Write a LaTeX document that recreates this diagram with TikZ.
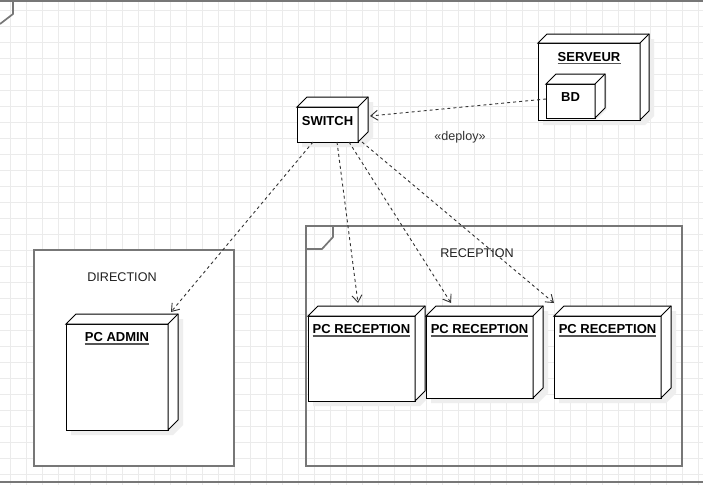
\documentclass[tikz,border=0pt]{standalone}
\usepackage{fontspec}
\setmainfont{Liberation Sans}
\usetikzlibrary{arrows.meta}
\definecolor{gridc}{HTML}{EBEBEB}
\definecolor{framec}{HTML}{777777}
\definecolor{shadc}{HTML}{EEEEEE}
\definecolor{linec}{HTML}{333333}
\definecolor{ulc}{HTML}{555555}
\newcommand\mycube[3][5]{%
  \fill[shadowpath] ([shift={(#1,#1)}]#2.north west) -- ([shift={(#1+#3,#1-#3)}]#2.north west)
    -- ([shift={(#1+#3,#1-#3)}]#2.north east) -- ([shift={(#1+#3,#1-#3)}]#2.south east)
    -- ([shift={(#1,#1)}]#2.south east) -- ([shift={(#1,#1)}]#2.south west) -- cycle;
  \draw[facepath] (#2.north west) rectangle (#2.south east);
  \draw[facepath] (#2.north west) -- ([shift={(#3,-#3)}]#2.north west)
    -- ([shift={(#3,-#3)}]#2.north east) -- ([shift={(#3,-#3)}]#2.south east)
    -- (#2.south east) -- (#2.north east) -- cycle;
  \draw[facepath] (#2.north east) -- ([shift={(#3,-#3)}]#2.north east);
}
\begin{document}
\begin{tikzpicture}[x=1pt,y=-1pt,
  boxgeom/.style={inner sep=0pt,outer sep=0pt,draw=none},
  facepath/.style={draw=black,line width=1pt,fill=white,line join=miter},
  shadowpath/.style={fill=shadc},
  nlabel/.style={inner sep=0pt,anchor=base,font=\fontsize{13}{15}\selectfont\bfseries},
  flabel/.style={inner sep=0pt,anchor=base,font=\fontsize{12.6}{15}\selectfont,text=black!88},
  ulline/.style={draw=ulc,line width=1.5pt},
  frameline/.style={draw=framec,line width=1.7pt},
  depline/.style={draw=linec,line width=0.9pt,dash pattern=on 3pt off 3pt,
    -{Straight Barb[length=7pt,width=10pt]}},
  gridline/.style={draw=gridc,line width=1pt}]
\useasboundingbox (0,0) rectangle (703,485);
\clip (0,0) rectangle (703,485);
\fill[white] (0,0) rectangle (703,485);
% grid
\foreach \x in {10,26,...,698} \draw[gridline] (\x,0) -- (\x,485);
\foreach \y in {10,26,...,474} \draw[gridline] (0,\y) -- (703,\y);
% outer frame
\draw[frameline] (-5,1) -- (710,1);
\draw[frameline] (-5,482) -- (710,482);
\draw[frameline] (13,0) -- (13,14) -- (0,24);
% DIRECTION frame
\draw[frameline,fill=white] (34,250) rectangle (234,466);
\node[flabel] (dirlbl) at (122,281) {DIRECTION};
% RECEPTION frame
\draw[frameline] (306,226) rectangle (682,466);
\draw[frameline] (333,226) -- (333,237) -- (322,249) -- (306,249);
\node[flabel] (reclbl) at (477,257) {RECEPTION};
% node geometry (front faces)
\path node[boxgeom,minimum width=102pt,minimum height=77pt] (serveur) at (589,81.5) {};
\path node[boxgeom,minimum width=49pt,minimum height=34pt] (bd) at (570.5,101) {};
\path node[boxgeom,minimum width=61pt,minimum height=35pt] (switch) at (327.5,124.5) {};
\path node[boxgeom,minimum width=102pt,minimum height=106pt] (pcadmin) at (117,377) {};
\path node[boxgeom,minimum width=107pt,minimum height=85pt] (pc1) at (361.5,358.5) {};
\path node[boxgeom,minimum width=107pt,minimum height=82pt] (pc2) at (479.5,357) {};
\path node[boxgeom,minimum width=107pt,minimum height=82pt] (pc3) at (607.5,357) {};
% draw boxes
\mycube{serveur}{9}
\mycube[1.5]{bd}{10}
\mycube{switch}{10}
\mycube{pcadmin}{10}
\mycube{pc1}{10}
\mycube{pc2}{10}
\mycube{pc3}{10}
% labels
\node[nlabel] (tserveur) at (589,61) {SERVEUR};
\draw[ulline] ([yshift=-2.5pt]tserveur.base west) -- ([yshift=-2.5pt]tserveur.base east);
\node[nlabel] (tbd) at (570.5,101) {BD};
\node[nlabel] (tswitch) at (327.5,125) {SWITCH};
\node[nlabel] (tpcadmin) at (117,341) {PC ADMIN};
\draw[ulline] ([yshift=-3pt]tpcadmin.base west) -- ([yshift=-3pt]tpcadmin.base east);
\node[nlabel] (tpc1) at (361.5,333) {PC RECEPTION};
\draw[ulline] ([yshift=-3pt]tpc1.base west) -- ([yshift=-3pt]tpc1.base east);
\node[nlabel] (tpc2) at (479.5,333) {PC RECEPTION};
\draw[ulline] ([yshift=-3pt]tpc2.base west) -- ([yshift=-3pt]tpc2.base east);
\node[nlabel] (tpc3) at (607.5,333) {PC RECEPTION};
\draw[ulline] ([yshift=-3pt]tpc3.base west) -- ([yshift=-3pt]tpc3.base east);
% connectors
\draw[depline] ([yshift=2pt]bd.west) -- ([xshift=12pt,yshift=8.5pt]switch.east);
\node[flabel,text=linec] (deploy) at (460,140) {«deploy»};
\draw[depline] ([xshift=-14.5pt]switch.south) -- ([xshift=54pt,yshift=12pt]pcadmin.north);
\draw[depline] ([xshift=9.5pt]switch.south) -- ([xshift=-3.5pt,yshift=13pt]pc1.north);
\draw[depline] ([xshift=21.5pt]switch.south) -- ([xshift=-28.5pt,yshift=13pt]pc2.north);
\draw[depline] ([xshift=34.5pt]switch.south) -- ([xshift=-53.5pt,yshift=13pt]pc3.north);
\end{tikzpicture}
\end{document}
